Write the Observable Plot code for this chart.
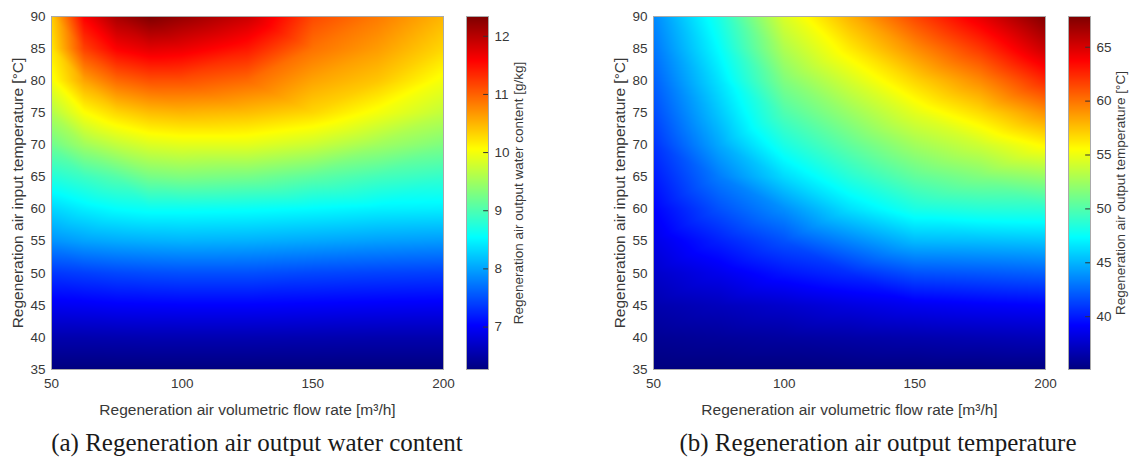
<!DOCTYPE html>
<html><head><meta charset="utf-8">
<script src="https://cdn.jsdelivr.net/npm/d3@7"></script>
<script src="https://cdn.jsdelivr.net/npm/@observablehq/plot@0.6"></script>
<style>
body{margin:0;background:#fff;width:1129px;height:460px;position:relative;overflow:hidden;font-family:"Liberation Sans",Arial,sans-serif}
.p{position:absolute;top:0}
.cap{position:absolute;top:428px;font-family:"Liberation Serif","DejaVu Serif",serif;font-size:25px;line-height:30px;color:#1a1a1a;text-align:center;width:560px;white-space:nowrap}
.hm [aria-label="x-axis label"] text,.hm [aria-label="y-axis label"] text{font-size:15.5px}
.cb [aria-label="y-axis label"] text{font-size:13.5px}
</style></head><body>
<div id="a1" class="p hm" style="left:0"></div>
<div id="a2" class="p cb" style="left:455px"></div>
<div id="b1" class="p hm" style="left:602px"></div>
<div id="b2" class="p cb" style="left:1057px"></div>
<div class="cap" style="left:-23px">(a) Regeneration air output water content</div>
<div class="cap" style="left:598px">(b) Regeneration air output temperature</div>
<script>
// Axes
const inletTemps = [35, 40, 45, 50, 55, 60, 65, 70, 75, 80, 85, 90];
const flowTicks = [50, 100, 150, 200];

// (a) water content [g/kg], one list per flow rate, values for inletTemps
const flowRatesA = [50, 62.5, 75, 87.5, 100, 125, 150, 175, 200];
const waterContent = [
  [6.27, 6.55, 6.95, 7.35, 7.90, 8.30, 8.75, 9.20, 9.60, 10.00, 10.20, 10.35],
  [6.27, 6.55, 6.97, 7.40, 8.00, 8.45, 8.90, 9.50, 10.05, 10.60, 11.20, 11.60],
  [6.27, 6.56, 7.00, 7.45, 8.05, 8.55, 9.05, 9.70, 10.30, 10.95, 11.60, 12.10],
  [6.27, 6.57, 7.01, 7.48, 8.08, 8.60, 9.25, 9.85, 10.45, 11.10, 11.75, 12.34],
  [6.27, 6.57, 7.02, 7.50, 8.10, 8.60, 9.30, 9.90, 10.50, 11.10, 11.70, 12.20],
  [6.27, 6.57, 7.02, 7.50, 8.08, 8.58, 9.25, 9.90, 10.45, 10.95, 11.45, 11.90],
  [6.27, 6.56, 7.00, 7.45, 8.03, 8.53, 9.10, 9.75, 10.30, 10.60, 10.90, 11.15],
  [6.27, 6.55, 6.98, 7.42, 7.98, 8.47, 8.95, 9.50, 10.00, 10.40, 10.65, 10.85],
  [6.27, 6.55, 6.97, 7.40, 7.95, 8.45, 8.85, 9.30, 9.70, 10.00, 10.30, 10.50]
];
const waterDomain = [6.27, 12.34];
const waterTicks = [7, 8, 9, 10, 11, 12];

// (b) output temperature [°C], one list per flow rate, values for inletTemps
const flowRatesB = [50, 75, 100, 125, 150, 175, 200];
const outletTemp = [
  [35.1, 35.8, 36.6, 37.5, 38.4, 39.2, 40.0, 40.8, 41.6, 42.3, 43.0, 43.6],
  [35.1, 36.0, 37.1, 38.6, 40.2, 41.8, 43.2, 44.6, 45.6, 46.5, 47.4, 48.2],
  [35.1, 36.2, 37.6, 39.8, 41.8, 43.8, 46.2, 48.2, 49.9, 51.5, 53.0, 54.4],
  [35.2, 36.4, 38.2, 40.6, 43.5, 46.4, 48.6, 50.5, 52.3, 54.2, 56.2, 58.0],
  [35.2, 36.6, 38.7, 41.8, 45.2, 48.2, 50.5, 52.6, 54.7, 56.9, 59.2, 61.5],
  [35.2, 36.8, 39.0, 42.0, 45.3, 48.6, 51.5, 54.0, 56.7, 59.3, 62.0, 64.5],
  [35.2, 37.0, 39.2, 42.3, 45.5, 48.7, 52.2, 55.8, 59.1, 62.5, 65.5, 67.8]
];
const tempDomain = [35.1, 67.85];
const tempTicks = [40, 45, 50, 55, 60, 65];

// Labels
const xLabel = "Regeneration air volumetric flow rate [m³/h]";
const yLabel = "Regeneration air input temperature [°C]";
const cbLabelA = "Regeneration air output water content [g/kg]";
const cbLabelB = "Regeneration air output temperature [°C]";

const jetColors = ["#00007f", "#0000ff", "#007fff", "#00ffff", "#7fff7f", "#ffff00", "#ff7f00", "#ff0000", "#7f0000"];
const jet = d3.piecewise(d3.interpolateRgb, jetColors);

function toGrid(flows, values) {
  const out = [];
  flows.forEach((f, i) => inletTemps.forEach((t, j) => out.push({x: f, y: t, v: values[i][j]})));
  return out;
}

const font = {fontFamily: '"Liberation Sans", Arial, sans-serif', fontSize: "13.5px", color: "#383838", background: "transparent"};

function heatmap(flows, values, domain) {
  return Plot.plot({
    width: 455, height: 420,
    marginLeft: 51, marginRight: 12, marginTop: 16, marginBottom: 51,
    x: {domain: [50, 200]},
    y: {domain: [35, 90]},
    color: {type: "linear", domain, interpolate: jet},
    style: font,
    marks: [
      Plot.raster(toGrid(flows, values), {x: "x", y: "y", fill: "v", interpolate: "barycentric"}),
      Plot.frame({stroke: "#aaa"}),
      Plot.axisX({ticks: flowTicks, tickSize: 0, tickPadding: 9, label: xLabel, labelAnchor: "center", labelArrow: "none", labelOffset: 45}),
      Plot.axisY({ticks: inletTemps, tickSize: 0, tickPadding: 6, label: yLabel, labelAnchor: "center", labelArrow: "none", labelOffset: 40})
    ]
  });
}

function colorbar(domain, ticks, label, width) {
  return Plot.plot({
    width, height: 420,
    marginLeft: 11, marginRight: width - 33, marginTop: 16, marginBottom: 51,
    x: {domain: [0, 1], axis: null},
    y: {domain},
    color: {type: "linear", domain, interpolate: jet},
    style: font,
    marks: [
      Plot.raster({fill: (x, y) => y, x1: 0, x2: 1, y1: domain[0], y2: domain[1], pixelSize: 1}),
      Plot.ruleY(ticks, {x1: 0.78, x2: 1, stroke: "#333", strokeWidth: 1}),
      Plot.frame({stroke: "#aaa"}),
      Plot.axisY({anchor: "right", ticks, tickFormat: d => String(d), tickSize: 0, tickPadding: 6, label, labelAnchor: "center", labelArrow: "none", labelOffset: 34})
    ]
  });
}

document.getElementById("a1").append(heatmap(flowRatesA, waterContent, waterDomain));
document.getElementById("a2").append(colorbar(waterDomain, waterTicks, cbLabelA, 105));
document.getElementById("b1").append(heatmap(flowRatesB, outletTemp, tempDomain));
document.getElementById("b2").append(colorbar(tempDomain, tempTicks, cbLabelB, 72));
</script>
</body></html>
